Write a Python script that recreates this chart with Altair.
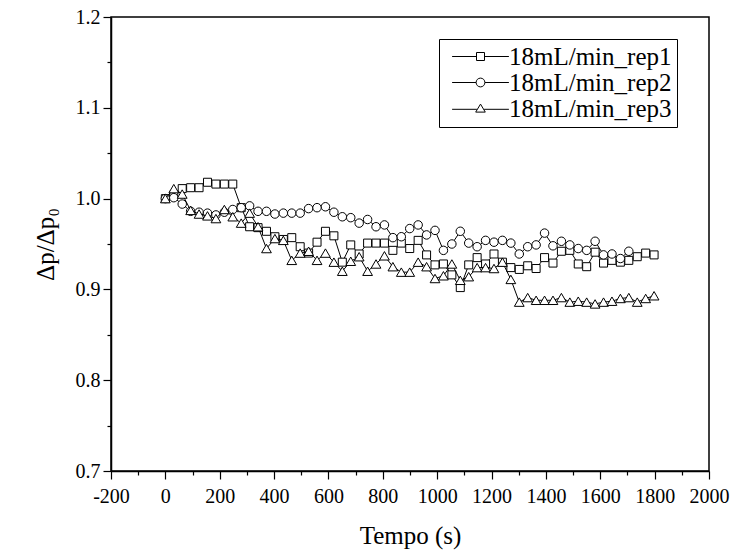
import altair as alt
import pandas as pd

TIME = [0, 31, 62, 93, 124, 155, 186, 217, 248, 279, 310, 341, 372, 403, 434, 465,
        496, 527, 558, 589, 620, 651, 682, 713, 744, 775, 806, 837, 868, 899, 930,
        961, 992, 1023, 1054, 1085, 1116, 1147, 1178, 1209, 1240, 1271, 1302, 1333,
        1364, 1395, 1426, 1457, 1488, 1519, 1550, 1581, 1612, 1643, 1674, 1705,
        1736, 1767, 1798]

REP1 = [1.000, 1.004, 1.011, 1.012, 1.012, 1.018, 1.016, 1.016, 1.016, 0.990,
        0.969, 0.968, 0.964, 0.958, 0.955, 0.957, 0.947, 0.940, 0.952, 0.964,
        0.959, 0.930, 0.949, 0.939, 0.951, 0.951, 0.951, 0.943, 0.951, 0.945,
        0.954, 0.938, 0.927, 0.928, 0.916, 0.902, 0.927, 0.935, 0.928, 0.939,
        0.930, 0.924, 0.922, 0.926, 0.923, 0.935, 0.929, 0.942, 0.943, 0.928,
        0.925, 0.941, 0.929, 0.932, 0.930, 0.932, 0.936, 0.940, 0.938]

REP2 = [1.000, 1.001, 0.994, 0.986, 0.985, 0.984, 0.982, 0.985, 0.988, 0.990,
        0.992, 0.986, 0.986, 0.983, 0.984, 0.984, 0.984, 0.989, 0.990, 0.991,
        0.985, 0.980, 0.979, 0.973, 0.977, 0.969, 0.971, 0.957, 0.958, 0.967,
        0.971, 0.960, 0.965, 0.943, 0.950, 0.964, 0.951, 0.947, 0.954, 0.952,
        0.954, 0.951, 0.939, 0.947, 0.949, 0.962, 0.948, 0.953, 0.949, 0.945,
        0.943, 0.953, 0.938, 0.939, 0.934, 0.942]

REP3 = [1.000, 1.011, 1.005, 0.987, 0.983, 0.981, 0.978, 0.988, 0.980, 0.973,
        0.984, 0.969, 0.945, 0.956, 0.954, 0.932, 0.940, 0.942, 0.932, 0.940,
        0.930, 0.920, 0.931, 0.936, 0.920, 0.928, 0.937, 0.925, 0.919, 0.919,
        0.930, 0.925, 0.912, 0.915, 0.928, 0.910, 0.914, 0.924, 0.924, 0.923,
        0.930, 0.911, 0.886, 0.891, 0.888, 0.888, 0.888, 0.891, 0.886, 0.887,
        0.886, 0.884, 0.886, 0.887, 0.890, 0.891, 0.886, 0.890, 0.893]

NAMES = ["18mL/min_rep1", "18mL/min_rep2", "18mL/min_rep3"]
X_MINOR = [-100, 100, 300, 500, 700, 900, 1100, 1300, 1500, 1700, 1900]
X_MAJOR = [-200, 0, 200, 400, 600, 800, 1000, 1200, 1400, 1600, 1800, 2000]
Y_MAJOR = [0.7, 0.8, 0.9, 1.0, 1.1, 1.2]
Y_MINOR = [0.75, 0.85, 0.95, 1.05, 1.15]

FONT = "Liberation Serif"

rows = []
for name, vals in zip(NAMES, [REP1, REP2, REP3]):
    for t, v in zip(TIME, vals):
        rows.append({"series": name, "t": t, "v": v})
df = pd.DataFrame(rows)

xs = alt.Scale(domain=[-200, 2000], nice=False, zero=False)
ys = alt.Scale(domain=[0.7, 1.2], nice=False, zero=False)

x_main = alt.X("t:Q", scale=xs, title="Tempo (s)",
               axis=alt.Axis(orient="bottom", values=X_MAJOR, tickSize=8,
                             labelExpr="'' + datum.value", labelOverlap=False,
                             labelFlush=False, labelPadding=7, titlePadding=17,
                             grid=False))
y_main = alt.Y("v:Q", scale=ys, title="Δp/Δp₀",
               axis=alt.Axis(orient="left", values=Y_MAJOR, format=".1f", tickSize=8,
                             labelOverlap=False, labelFlush=False, labelPadding=3,
                             titlePadding=17, grid=False))

x_minor = alt.X("t:Q", scale=xs, title=None,
                axis=alt.Axis(orient="bottom", values=X_MINOR, labels=False, tickSize=4,
                              domain=False, grid=False))
y_minor = alt.Y("v:Q", scale=ys, title=None,
                axis=alt.Axis(orient="left", values=Y_MINOR, labels=False, tickSize=4,
                              domain=False, grid=False))

shapes = ["square", "circle", "triangle-up"]
sizes = [64, 72, 95]
layers = []
for i, (name, shp, sz) in enumerate(zip(NAMES, shapes, sizes)):
    sub = alt.Chart(df).transform_filter(alt.datum.series == name)
    enc_x = alt.X("t:Q", scale=xs, axis=None)
    enc_y = alt.Y("v:Q", scale=ys, axis=None)
    line = sub.mark_line(color="black", strokeWidth=1).encode(x=enc_x, y=enc_y)
    pts = sub.mark_point(shape=shp, size=sz, filled=True, fill="white", stroke="black",
                         strokeWidth=1, opacity=1).encode(x=enc_x, y=enc_y)
    layers += [line, pts]

major_layer = alt.Chart(df).mark_point(opacity=0).encode(x=x_main, y=y_main)
minor_layer = alt.Chart(df).mark_point(opacity=0).encode(x=x_minor, y=y_minor)

sq = "M-7.1,0H-1M1,0H7.1M-1,-1H1V1H-1Z"
ci = "M-7.1,0H-1.1M1.1,0H7.1M1.1,0A1.1,1.1 0 1,1 -1.1,0A1.1,1.1 0 1,1 1.1,0Z"
tr = "M-7.1,0.2H-0.9M0.9,0.2H7.1M0,-1.1L1.2,0.9H-1.2Z"

legend_layer = alt.Chart(df).transform_filter("datum.t < -1000").mark_point(
    filled=False, color="black", strokeWidth=1).encode(
    x=alt.X("t:Q", scale=xs, axis=None),
    y=alt.Y("v:Q", scale=ys, axis=None),
    shape=alt.Shape("series:N", scale=alt.Scale(domain=NAMES, range=[sq, ci, tr]),
                    legend=alt.Legend(title=None, orient="none", legendX=328, legendY=22,
                                      strokeColor="black", fillColor="white", padding=5,
                                      labelFont=FONT, labelFontSize=25, labelColor="black",
                                      labelExpr="datum.label + '\u2003\u2002'",
                                      symbolSize=64, symbolStrokeWidth=1,
                                      symbolStrokeColor="black",
                                      symbolOpacity=1, symbolOffset=24, labelOffset=16,
                                      rowPadding=-2, labelLimit=400)),
)

chart = alt.layer(major_layer, minor_layer, *layers, legend_layer).resolve_axis(
    x="independent", y="independent"
).properties(
    width=598, height=454,
    autosize=alt.AutoSizeParams(type="none"),
    padding={"left": 111, "top": 17, "right": 23, "bottom": 81},
).configure(
    font=FONT
).configure_view(
    stroke="black", strokeWidth=1.5
).configure_axis(
    domainColor="black", domainWidth=1.5, tickColor="black", tickWidth=1.2,
    labelFont=FONT, labelFontSize=20, labelColor="black",
    titleFont=FONT, titleFontSize=25, titleColor="black", titleFontWeight="normal",
)

chart.save("out.html", embed_options={"renderer": "svg", "actions": False})
